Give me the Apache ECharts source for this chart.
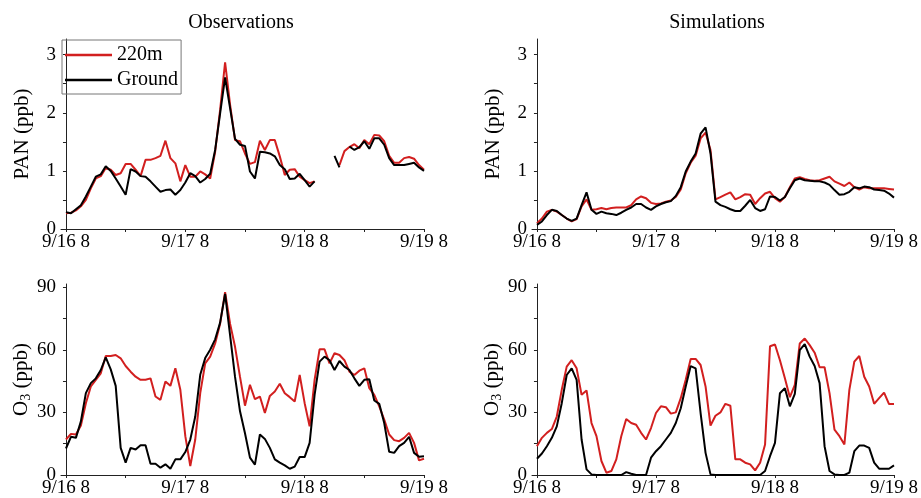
<!DOCTYPE html>
<html>
<head>
<meta charset="utf-8">
<script src="https://cdn.jsdelivr.net/npm/echarts@6/dist/echarts.min.js"></script>
<style>
  html, body { margin: 0; padding: 0; background: #fff; }
  #chart { width: 921px; height: 498px; }
</style>
</head>
<body>
<div id="chart"></div>
<script>
// Hourly values from 9/16 08:00 to 9/19 08:00 (73 points, index = hours elapsed)
const tickHours = [0, 24, 48, 72];
const tickLabels = ['9/16 8', '9/17 8', '9/18 8', '9/19 8'];
const minorHours = [0, 12, 24, 36, 48, 60, 72];

// PAN observations (ppb)
const panObs220 = [
  0.27,0.28,0.32,0.39,0.50,0.70,0.87,0.91,1.05,1.02,0.93,0.96,
  1.12,1.12,1.02,0.91,1.19,1.19,1.22,1.26,1.52,1.22,1.13,0.82,
  1.10,0.90,0.90,0.99,0.94,0.87,1.33,2.05,2.87,2.14,1.53,1.51,
  1.30,1.12,1.15,1.52,1.36,1.53,1.53,1.25,0.93,1.02,1.03,0.90,
  0.84,0.79,0.82,null,null,null,null,1.10,1.34,1.41,1.46,1.39,
  1.53,1.46,1.62,1.61,1.51,1.26,1.14,1.14,1.22,1.24,1.21,1.10,
  1.02
];
const panObsGround = [
  0.29,0.27,0.34,0.41,0.56,0.73,0.90,0.94,1.08,1.00,0.87,0.73,
  0.59,1.03,0.99,0.91,0.90,0.82,0.73,0.64,0.67,0.68,0.59,0.67,
  0.80,0.96,0.91,0.80,0.86,0.95,1.36,1.99,2.61,2.08,1.55,1.45,
  1.43,0.99,0.87,1.33,1.32,1.30,1.25,1.10,1.03,0.86,0.87,0.95,
  0.84,0.73,0.82,null,null,null,1.26,1.06,null,1.42,1.36,1.41,
  1.51,1.38,1.56,1.56,1.45,1.22,1.10,1.10,1.10,1.12,1.14,1.06,
  1.00
];

// PAN simulations (ppb)
const panSim220 = [
  0.10,0.18,0.30,0.33,0.30,0.24,0.18,0.13,0.17,0.39,0.51,0.33,
  0.34,0.36,0.34,0.36,0.37,0.37,0.37,0.41,0.51,0.56,0.53,0.45,
  0.43,0.44,0.47,0.49,0.55,0.68,0.96,1.14,1.26,1.56,1.66,1.36,
  0.51,0.55,0.59,0.63,0.51,0.55,0.60,0.59,0.43,0.53,0.61,0.64,
  0.53,0.47,0.55,0.72,0.87,0.89,0.86,0.84,0.83,0.84,0.87,0.90,
  0.82,0.78,0.74,0.80,0.72,0.68,0.72,0.70,0.70,0.70,0.70,0.69,
  0.68
];
const panSimGround = [
  0.07,0.13,0.24,0.33,0.31,0.24,0.18,0.14,0.18,0.41,0.63,0.33,
  0.26,0.30,0.27,0.26,0.24,0.28,0.33,0.37,0.43,0.43,0.37,0.33,
  0.39,0.43,0.46,0.48,0.57,0.72,0.99,1.16,1.30,1.64,1.75,1.30,
  0.47,0.41,0.38,0.34,0.31,0.31,0.40,0.50,0.36,0.31,0.34,0.56,
  0.55,0.49,0.55,0.70,0.84,0.87,0.84,0.83,0.82,0.82,0.80,0.76,
  0.67,0.59,0.60,0.64,0.72,0.70,0.73,0.72,0.68,0.67,0.66,0.61,
  0.54
];

// O3 observations (ppb)
const o3Obs220 = [
  17,19.7,19.4,23.7,34.4,42.4,45.6,48.7,57,57,57.5,55.9,
  52.2,49.5,47.1,45.6,45.6,46.3,37.6,36,44.8,42.7,51.1,40.8,
  18.6,4.3,17,39.2,53.5,56.7,63,72.5,87.6,72.5,61.4,47,
  33.2,43.2,36.3,37.6,29.7,37.9,40,43.7,39.2,37.3,35.2,47.9,
  34.4,23.3,45.6,60.2,60.2,53.5,58.3,57.5,55,49.5,47.9,50,
  51.1,41.6,38.4,32.9,26.5,19.4,16.7,16.2,17.8,20.2,15.4,7,
  7.8
];
const o3ObsGround = [
  12.7,18.3,17.8,25.7,39.2,44,46.3,50.3,56.3,50.6,42.7,13,
  5.9,13,12.2,14.3,14.3,5.4,5.4,3.5,5.1,3,7.5,7.5,
  11,17,28,48,56,60,65,73,86.8,67,47,30.5,
  20,8.3,5,19.4,17.3,13,7.5,5.9,4.6,3,4,8.6,
  8.6,15.4,38.4,54.3,56.7,55,50.3,54.6,51.9,50.3,46.3,42.7,
  45.6,45.9,35.7,34.1,24.9,11.1,10.6,13.8,15.4,18.3,10.6,8.7,
  9
];

// O3 simulations (ppb)
const o3Sim220 = [
  13.8,17.8,20.2,22,28,40.8,51.9,55,51.1,38.4,40.5,24.9,
  18.6,6.7,1.1,1.9,7.5,18.6,26.8,24.9,24.1,20.2,17,22.5,
  29.7,32.9,32.5,29.4,30,36.8,45.6,55.6,55.6,52.7,42.4,23.7,
  28.4,30,34.1,33.2,7.5,7.5,5.9,5.1,2.2,5.9,14.6,61.7,
  62.5,55,46.3,37.3,43.2,63,65.4,62.2,58.6,51.6,51.6,39.2,
  21.7,18.6,14.6,40.8,54.3,57,47.1,42.4,34.1,36.8,39.5,34,
  34
];
const o3SimGround = [
  7.8,10.3,13.8,17.8,23.3,34.4,47.9,51.1,45.6,17,2.7,0.3,
  0,0,0,0,0,0,1.4,0.6,0,0,0,8.3,
  11.4,13.8,17,20.2,24.9,32,42.4,52.2,51.1,29.7,10.6,0.3,
  0,0,0,0,0,0,0,0,0,0,1.9,9,
  15.4,39.2,41.6,32.9,38.9,59.8,62.7,56.7,52.2,44,13.8,1.9,
  0.3,0,0,1.1,11.4,14.1,14.1,13,5.9,3,3,3,
  4.6
];

const RED = '#d21f1f';
const BLACK = '#000000';
const FONT = '"Liberation Serif", "Times New Roman", serif';

const toPairs = arr => arr.map((v, i) => [i, v]);

const grids = [
  { left: 61, top: 39, width: 363, height: 190 },
  { left: 532, top: 39, width: 363, height: 190 },
  { left: 61, top: 284, width: 363, height: 192 },
  { left: 532, top: 284, width: 363, height: 192 }
];

function xAxisFor(idx) {
  return {
    type: 'value', gridIndex: idx, min: -1, max: 72,
    axisLine: { lineStyle: { color: '#222', width: 1 } },
    splitLine: { show: false },
    axisTick: { length: 3, customValues: minorHours, lineStyle: { color: '#222' } },
    axisLabel: {
      customValues: tickHours,
      formatter: v => tickLabels[tickHours.indexOf(v)],
      color: '#000', fontFamily: FONT, fontSize: 19, margin: 4
    }
  };
}

const panTicks = [0, 0.5, 1, 1.5, 2, 2.5, 3];
const panLabels = [0, 1, 2, 3];
const o3Ticks = [0, 15, 30, 45, 60, 75, 90];
const o3Labels = [0, 30, 60, 90];

function yAxisFor(idx, isPan) {
  return {
    type: 'value', gridIndex: idx, min: 0, max: isPan ? 3.27 : 91.5,
    name: isPan ? 'PAN (ppb)' : '{a|O}{s|3}{a| (ppb)}',
    nameLocation: 'middle', nameGap: 28,
    nameTextStyle: {
      color: '#000', fontFamily: FONT, fontSize: 21,
      rich: {
        a: { fontFamily: FONT, fontSize: 21, color: '#000' },
        s: { fontFamily: FONT, fontSize: 14, color: '#000', padding: [9, 0, 0, 0] }
      }
    },
    axisLine: { show: true, lineStyle: { color: '#222', width: 1 } },
    splitLine: { show: false },
    axisTick: { show: true, length: 3, customValues: isPan ? panTicks : o3Ticks, lineStyle: { color: '#222' } },
    axisLabel: {
      customValues: isPan ? panLabels : o3Labels,
      color: '#000', fontFamily: FONT, fontSize: 19, margin: 5
    }
  };
}

function lineSeries(name, data, color, idx, z) {
  return {
    name, type: 'line', xAxisIndex: idx, yAxisIndex: idx,
    data: toPairs(data), symbol: 'none', connectNulls: false,
    lineStyle: { color, width: 2 }, itemStyle: { color }, z,
    animation: false
  };
}

const chart = echarts.init(document.getElementById('chart'), null, { renderer: 'canvas' });
chart.setOption({
  backgroundColor: '#fff',
  animation: false,
  title: [
    { text: 'Observations', left: 236, top: 8, textAlign: 'center',
      textStyle: { fontFamily: FONT, fontSize: 20, fontWeight: 'normal', color: '#000' } },
    { text: 'Simulations', left: 712, top: 8, textAlign: 'center',
      textStyle: { fontFamily: FONT, fontSize: 20, fontWeight: 'normal', color: '#000' } }
  ],
  legend: {
    data: ['220m', 'Ground'],
    orient: 'vertical', left: 62, top: 40,
    padding: [5, 3, 4, 3], itemGap: 5,
    icon: 'rect', itemWidth: 47, itemHeight: 2.5,
    borderColor: '#777', borderWidth: 1,
    textStyle: { fontFamily: FONT, fontSize: 20, color: '#000', lineHeight: 20 }
  },
  grid: grids,
  xAxis: [0, 1, 2, 3].map(xAxisFor),
  yAxis: [yAxisFor(0, true), yAxisFor(1, true), yAxisFor(2, false), yAxisFor(3, false)],
  series: [
    lineSeries('220m', panObs220, RED, 0, 2),
    lineSeries('Ground', panObsGround, BLACK, 0, 3),
    lineSeries('220m', panSim220, RED, 1, 2),
    lineSeries('Ground', panSimGround, BLACK, 1, 3),
    lineSeries('220m', o3Obs220, RED, 2, 2),
    lineSeries('Ground', o3ObsGround, BLACK, 2, 3),
    lineSeries('220m', o3Sim220, RED, 3, 2),
    lineSeries('Ground', o3SimGround, BLACK, 3, 3)
  ]
});
</script>
</body>
</html>
